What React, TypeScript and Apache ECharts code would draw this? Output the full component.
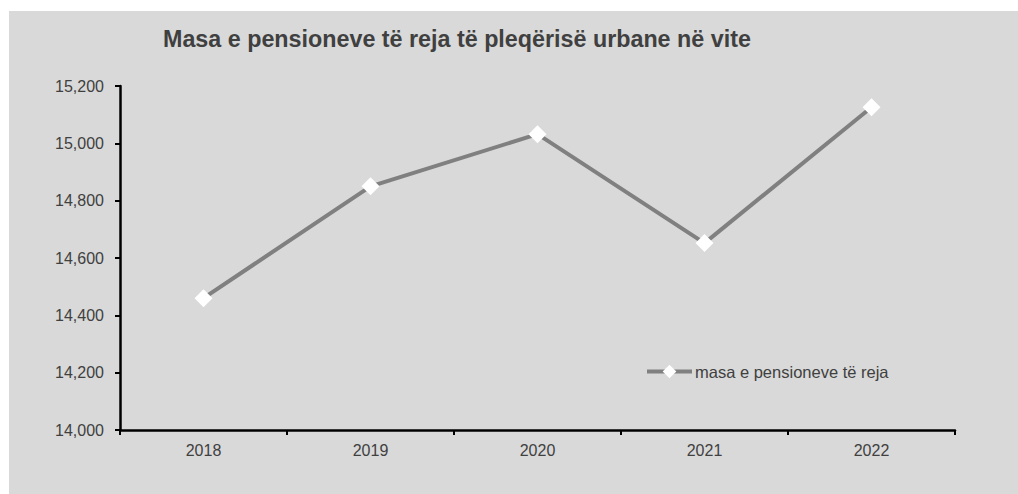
import React, { useEffect, useRef } from "react";
import * as echarts from "echarts";

const categories = ["2018", "2019", "2020", "2021", "2022"];
const seriesValues = [14460, 14850, 15032, 14652, 15126];
const seriesName = "masa e pensioneve të reja";
const titleText = "Masa e pensioneve të reja të pleqërisë urbane në vite";

export default function App() {
  const ref = useRef<HTMLDivElement>(null);
  useEffect(() => {
    if (!ref.current) return;
    const chart = echarts.init(ref.current, undefined, { renderer: "svg" });
    chart.setOption({
      animation: false,
      backgroundColor: "#d9d9d9",
      textStyle: { fontFamily: "Liberation Sans, Arial, sans-serif" },
      title: {
        text: titleText,
        left: 154,
        top: 16,
        padding: 0,
        textStyle: {
          fontSize: 23.3,
          fontWeight: "bold",
          color: "#404040",
          fontFamily: "Liberation Sans, Arial, sans-serif",
        },
      },
      legend: {
        left: 636,
        top: 352,
        itemWidth: 45,
        itemHeight: 17,
        itemGap: 0,
        padding: 0,
        lineStyle: { width: 4, color: "#808080" },
        textStyle: { fontSize: 16.5, color: "#404040", padding: [0, 0, 0, -2] },
        data: [seriesName],
      },
      grid: { left: 111, top: 75, right: 63, bottom: 64, containLabel: false },
      xAxis: {
        type: "category",
        data: categories,
        boundaryGap: true,
        axisLine: { lineStyle: { color: "#000", width: 2.5 } },
        axisTick: { show: true, length: 5, lineStyle: { color: "#000", width: 2 } },
        axisLabel: { fontSize: 16, color: "#404040", margin: 12 },
        splitLine: { show: false },
      },
      yAxis: {
        type: "value",
        min: 14000,
        max: 15200,
        interval: 200,
        axisLine: { show: true, lineStyle: { color: "#000", width: 2.5 } },
        axisTick: { show: true, length: 5, lineStyle: { color: "#000", width: 2 } },
        axisLabel: {
          fontSize: 16,
          color: "#404040",
          margin: 16,
          formatter: (v: number) => v.toLocaleString("en-US"),
        },
        splitLine: { show: false },
      },
      series: [
        {
          name: seriesName,
          type: "line",
          data: seriesValues,
          symbol: "diamond",
          symbolSize: 18,
          showAllSymbol: true,
          lineStyle: { color: "#808080", width: 4 },
          itemStyle: { color: "#ffffff", borderWidth: 0 },
          emphasis: { disabled: true },
          z: 3,
        },
      ],
    });
    return () => chart.dispose();
  }, []);
  return (
    <div
      ref={ref}
      style={{ position: "absolute", left: 9, top: 11, width: 1009, height: 483 }}
    />
  );
}
